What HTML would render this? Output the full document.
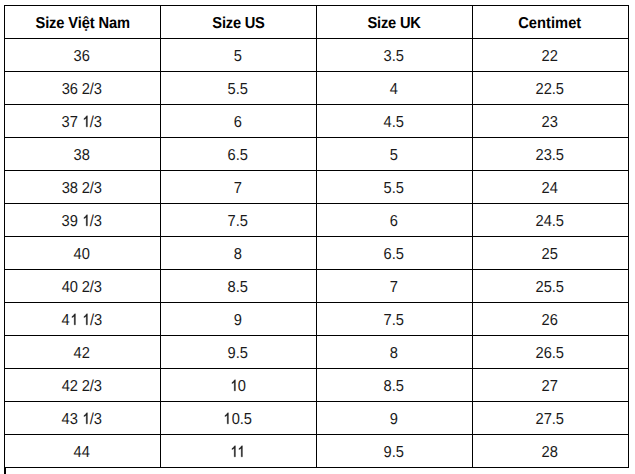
<!DOCTYPE html>
<html><head><meta charset="utf-8"><title>Size chart</title>
<style>
html,body{margin:0;padding:0;background:#fff;}
body{width:635px;height:474px;position:relative;overflow:hidden;font-family:"Liberation Sans",sans-serif;font-size:14.67px;color:#000;}
.h,.v{position:absolute;background:#000;}
.h{height:1px;left:4px;width:625px;}
.v{width:1px;top:5px;height:463px;}
.c{position:absolute;width:155px;height:32px;line-height:32px;text-align:center;white-space:nowrap;text-rendering:geometricPrecision;transform:scaleY(1.08);transform-origin:0 20px;}
.c{color:#1a1a1a;}
.b{font-weight:bold;color:#000;}
.o{width:0.5562em;height:0.75em;vertical-align:baseline;fill:#1a1a1a;stroke:#1a1a1a;stroke-width:45;stroke-linejoin:round;overflow:visible;}
.k{margin-left:-0.074em;}
</style></head><body>
<div class="h" style="top:5px"></div><div class="h" style="top:38px"></div><div class="h" style="top:71px"></div><div class="h" style="top:104px"></div><div class="h" style="top:137px"></div><div class="h" style="top:170px"></div><div class="h" style="top:203px"></div><div class="h" style="top:236px"></div><div class="h" style="top:269px"></div><div class="h" style="top:302px"></div><div class="h" style="top:335px"></div><div class="h" style="top:368px"></div><div class="h" style="top:401px"></div><div class="h" style="top:434px"></div><div class="h" style="top:467px"></div><div class="v" style="left:4px"></div><div class="v" style="left:160px"></div><div class="v" style="left:316px"></div><div class="v" style="left:472px"></div><div class="v" style="left:628px"></div><div class="v" style="left:4px;top:468px;height:6px;width:2px"></div>
<div class="c b" style="left:5.25px;top:8px;letter-spacing:-0.1px">Size Việt Nam</div><div class="c b" style="left:161px;top:8px;letter-spacing:-0.2px">Size US</div><div class="c b" style="left:316.6px;top:8px;letter-spacing:-0.2px">Size UK</div><div class="c b" style="left:472.25px;top:8px;letter-spacing:0.05px">Centimet</div>
<div class="c" style="left:4.25px;top:41px">36</div><div class="c" style="left:160.25px;top:41px">5</div><div class="c" style="left:316.25px;top:41px">3.5</div><div class="c" style="left:472.25px;top:41px">22</div>
<div class="c" style="left:4.25px;top:74px;letter-spacing:-0.1px">36 2/3</div><div class="c" style="left:160.25px;top:74px">5.5</div><div class="c" style="left:316.25px;top:74px">4</div><div class="c" style="left:472.25px;top:74px">22.5</div>
<div class="c" style="left:4.25px;top:107px;letter-spacing:-0.1px">37 <svg class="o" viewBox="0 -1536 1139 1536"><path transform="scale(1 -1)" d="M755 22H591V1140Q518 1080 430 1028T275 942V1100Q390 1165 490 1262T650 1444H755Z"/></svg>/3</div><div class="c" style="left:160.25px;top:107px">6</div><div class="c" style="left:316.25px;top:107px">4.5</div><div class="c" style="left:472.25px;top:107px">23</div>
<div class="c" style="left:4.25px;top:140px">38</div><div class="c" style="left:160.25px;top:140px">6.5</div><div class="c" style="left:316.25px;top:140px">5</div><div class="c" style="left:472.25px;top:140px">23.5</div>
<div class="c" style="left:4.25px;top:173px;letter-spacing:-0.1px">38 2/3</div><div class="c" style="left:160.25px;top:173px">7</div><div class="c" style="left:316.25px;top:173px">5.5</div><div class="c" style="left:472.25px;top:173px">24</div>
<div class="c" style="left:4.25px;top:206px;letter-spacing:-0.1px">39 <svg class="o" viewBox="0 -1536 1139 1536"><path transform="scale(1 -1)" d="M755 22H591V1140Q518 1080 430 1028T275 942V1100Q390 1165 490 1262T650 1444H755Z"/></svg>/3</div><div class="c" style="left:160.25px;top:206px">7.5</div><div class="c" style="left:316.25px;top:206px">6</div><div class="c" style="left:472.25px;top:206px">24.5</div>
<div class="c" style="left:4.25px;top:239px">40</div><div class="c" style="left:160.25px;top:239px">8</div><div class="c" style="left:316.25px;top:239px">6.5</div><div class="c" style="left:472.25px;top:239px">25</div>
<div class="c" style="left:4.25px;top:272px;letter-spacing:-0.1px">40 2/3</div><div class="c" style="left:160.25px;top:272px">8.5</div><div class="c" style="left:316.25px;top:272px">7</div><div class="c" style="left:472.25px;top:272px">25.5</div>
<div class="c" style="left:4.25px;top:305px;letter-spacing:-0.1px">4<svg class="o" viewBox="0 -1536 1139 1536"><path transform="scale(1 -1)" d="M755 22H591V1140Q518 1080 430 1028T275 942V1100Q390 1165 490 1262T650 1444H755Z"/></svg> <svg class="o" viewBox="0 -1536 1139 1536"><path transform="scale(1 -1)" d="M755 22H591V1140Q518 1080 430 1028T275 942V1100Q390 1165 490 1262T650 1444H755Z"/></svg>/3</div><div class="c" style="left:160.25px;top:305px">9</div><div class="c" style="left:316.25px;top:305px">7.5</div><div class="c" style="left:472.25px;top:305px">26</div>
<div class="c" style="left:4.25px;top:338px">42</div><div class="c" style="left:160.25px;top:338px">9.5</div><div class="c" style="left:316.25px;top:338px">8</div><div class="c" style="left:472.25px;top:338px">26.5</div>
<div class="c" style="left:4.25px;top:371px;letter-spacing:-0.1px">42 2/3</div><div class="c" style="left:160.25px;top:371px"><svg class="o" viewBox="0 -1536 1139 1536"><path transform="scale(1 -1)" d="M755 22H591V1140Q518 1080 430 1028T275 942V1100Q390 1165 490 1262T650 1444H755Z"/></svg>0</div><div class="c" style="left:316.25px;top:371px">8.5</div><div class="c" style="left:472.25px;top:371px">27</div>
<div class="c" style="left:4.25px;top:404px;letter-spacing:-0.1px">43 <svg class="o" viewBox="0 -1536 1139 1536"><path transform="scale(1 -1)" d="M755 22H591V1140Q518 1080 430 1028T275 942V1100Q390 1165 490 1262T650 1444H755Z"/></svg>/3</div><div class="c" style="left:160.25px;top:404px"><svg class="o" viewBox="0 -1536 1139 1536"><path transform="scale(1 -1)" d="M755 22H591V1140Q518 1080 430 1028T275 942V1100Q390 1165 490 1262T650 1444H755Z"/></svg>0.5</div><div class="c" style="left:316.25px;top:404px">9</div><div class="c" style="left:472.25px;top:404px">27.5</div>
<div class="c" style="left:4.25px;top:437px">44</div><div class="c" style="left:160.25px;top:437px"><svg class="o" viewBox="0 -1536 1139 1536"><path transform="scale(1 -1)" d="M755 22H591V1140Q518 1080 430 1028T275 942V1100Q390 1165 490 1262T650 1444H755Z"/></svg><svg class="o k" viewBox="0 -1536 1139 1536"><path transform="scale(1 -1)" d="M755 22H591V1140Q518 1080 430 1028T275 942V1100Q390 1165 490 1262T650 1444H755Z"/></svg></div><div class="c" style="left:316.25px;top:437px">9.5</div><div class="c" style="left:472.25px;top:437px">28</div>
</body></html>
